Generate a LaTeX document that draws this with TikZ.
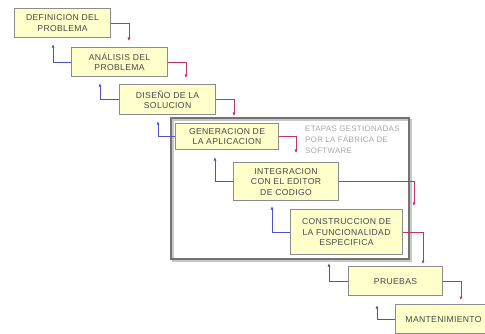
\documentclass[tikz,border=0pt]{standalone}
\usepackage{fontspec}
\setmainfont{Liberation Sans}
\usetikzlibrary{arrows.meta,calc}
\definecolor{stagefill}{RGB}{255,255,204}
\definecolor{fwdline}{RGB}{190,50,110}
\definecolor{backline}{RGB}{80,80,200}
\begin{document}
\begin{tikzpicture}[x=1pt,y=-1pt,
  stage/.style={draw=black!45, line width=1.1pt, fill=stagefill, anchor=north west,
    inner sep=0pt, align=center,
    font=\fontsize{8.6}{10.5}\selectfont\addfontfeatures{LetterSpace=4}, text=black!72},
  fwdarrow/.style={draw=fwdline, line width=0.8pt, -{Latex[length=3.5pt,width=3.2pt]}},
  backarrow/.style={draw=backline, line width=0.8pt, -{Latex[length=3.5pt,width=3.2pt]}},
  frameline/.style={draw=black!55, line width=1.6pt},
  frameshadow/.style={draw=black!22, line width=1.6pt},
  note/.style={anchor=north west, align=left, inner sep=0pt,
    font=\fontsize{7.9}{10.8}\selectfont\addfontfeatures{LetterSpace=4}, text=black!35}]
\useasboundingbox (0,0) rectangle (485,334);
\clip (0,0) rectangle (485,334);

% frame around the stages handled by the software factory
\draw[frameshadow] (173,120) rectangle (411,261);
\draw[frameline] (171,118) rectangle (409,259);
\node[note] (nota) at (305,126) {ETAPAS GESTIONADAS\\POR LA FÁBRICA DE\\SOFTWARE};

% stages
\node[stage, minimum width=96pt, minimum height=29pt] (b1) at (14,8) {DEFINICION DEL\\PROBLEMA};
\node[stage, minimum width=96pt, minimum height=29pt] (b2) at (71,47) {ANÁLISIS DEL\\PROBLEMA};
\node[stage, minimum width=96pt, minimum height=30pt] (b3) at (119,84) {DISEÑO DE LA\\SOLUCION};
\node[stage, minimum width=103pt, minimum height=26pt] (b4) at (175,123) {GENERACION DE\\LA APLICACION};
\node[stage, minimum width=105pt, minimum height=38pt] (b5) at (233,162) {INTEGRACION\\CON EL EDITOR\\DE CODIGO};
\node[stage, minimum width=112pt, minimum height=45pt] (b6) at (290,209) {CONSTRUCCION DE\\LA FUNCIONALIDAD\\ESPECIFICA};
\node[stage, minimum width=94pt, minimum height=29pt] (b7) at (348,266) {PRUEBAS};
\node[stage, minimum width=96pt, minimum height=29pt] (b8) at (395,304) {MANTENIMIENTO};

% forward flow
\draw[fwdarrow, shorten >=6pt] (b1.east) -| ($(b2.north west)+(58,0)$);
\draw[fwdarrow, shorten >=6pt] (b2.east) -| ($(b3.north west)+(67,0)$);
\draw[fwdarrow, shorten >=7pt] (b3.east) -| ($(b4.north west)+(59,0)$);
\draw[fwdarrow, shorten >=9pt] (b4.east) -| ($(b5.north west)+(63,0)$);
\draw[fwdarrow, shorten >=3pt] (b5.east) -| ($(b6.north west)+(124,0)$);
\draw[fwdarrow, shorten >=2pt] (b6.east) -| ($(b7.north west)+(75,0)$);
\draw[fwdarrow, shorten >=4pt] (b7.east) -| ($(b8.north west)+(66,0)$);

% feedback to the previous stage
\draw[backarrow, shorten >=6pt] (b2.west) -| ($(b1.south west)+(39,0)$);
\draw[backarrow, shorten >=6pt] (b3.west) -| ($(b2.south west)+(29,0)$);
\draw[backarrow, shorten >=6pt] (b4.west) -| ($(b3.south west)+(39,0)$);
\draw[backarrow, shorten >=7pt] (b5.west) -| ($(b4.south west)+(40,0)$);
\draw[backarrow, shorten >=5pt] (b6.west) -| ($(b5.south west)+(39,0)$);
\draw[backarrow, shorten >=8pt] (b7.west) -| ($(b6.south west)+(39,0)$);
\draw[backarrow, shorten >=9pt] (b8.west) -| ($(b7.south west)+(29,0)$);
\end{tikzpicture}
\end{document}
